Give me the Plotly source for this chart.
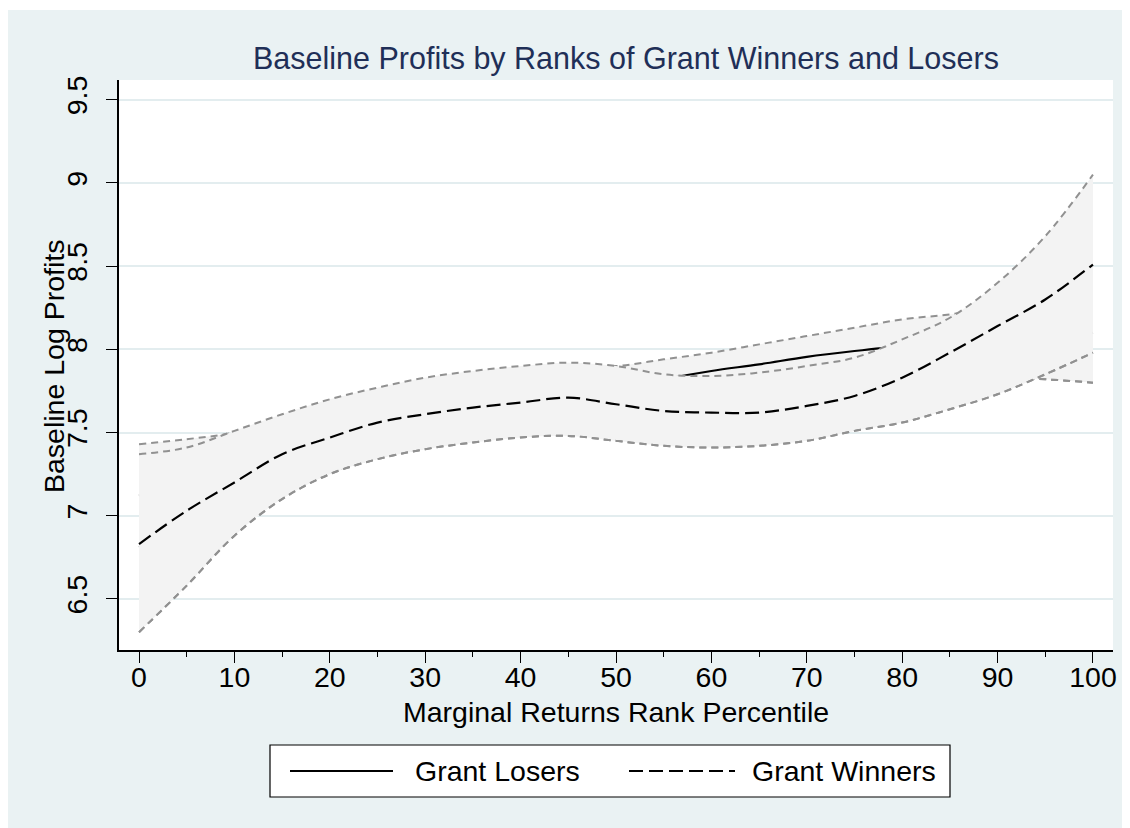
import plotly.graph_objects as go

# ---------------- data ----------------
pctl = [0, 5, 10, 15, 20, 25, 30, 35, 40, 45, 50, 55, 60, 65, 70, 75, 80, 85, 90, 95, 100]

# Grant Losers: local-poly fit and CI
losers_fit = [7.12, 7.20, 7.28, 7.36, 7.44, 7.51, 7.57, 7.62, 7.67, 7.71, 7.76,
              7.82, 7.87, 7.91, 7.955, 7.99, 8.02, 8.04, 8.05, 8.07, 8.10]
losers_hi = [7.43, 7.46, 7.50, 7.58, 7.66, 7.74, 7.80, 7.84, 7.88, 7.91, 7.90,
             7.94, 7.98, 8.03, 8.08, 8.13, 8.18, 8.21, 8.25, 8.30, 8.35]
losers_lo = [6.81, 6.93, 7.04, 7.14, 7.26, 7.35, 7.41, 7.46, 7.49, 7.52, 7.58,
             7.66, 7.72, 7.76, 7.79, 7.81, 7.82, 7.83, 7.83, 7.82, 7.80]

# Grant Winners: local-poly fit and CI
winners_fit = [6.83, 7.03, 7.20, 7.37, 7.47, 7.56, 7.61, 7.65, 7.68, 7.71, 7.67,
               7.63, 7.62, 7.62, 7.66, 7.72, 7.83, 7.98, 8.14, 8.30, 8.51]
winners_hi = [7.37, 7.41, 7.51, 7.61, 7.70, 7.77, 7.83, 7.87, 7.90, 7.92, 7.90,
              7.85, 7.84, 7.86, 7.90, 7.95, 8.06, 8.19, 8.40, 8.68, 9.05]
winners_lo = [6.30, 6.58, 6.88, 7.10, 7.25, 7.34, 7.40, 7.44, 7.47, 7.48, 7.45,
              7.42, 7.41, 7.42, 7.45, 7.51, 7.56, 7.64, 7.73, 7.85, 7.98]

y_ticks = [6.5, 7, 7.5, 8, 8.5, 9, 9.5]
x_ticks = [0, 10, 20, 30, 40, 50, 60, 70, 80, 90, 100]

TITLE = "Baseline Profits by Ranks of Grant Winners and Losers"
X_TITLE = "Marginal Returns Rank Percentile"
Y_TITLE = "Baseline Log Profits"
LEG_NAMES = ["Grant Losers", "Grant Winners"]

# ---------------- styling ----------------
FONT = "Arial, Liberation Sans, sans-serif"
BG = "#eaf2f3"
GRID = "#e3edef"
FILL = "#f3f3f3"
CI_LINE = "#919191"
CI_DASH = "7px,5px"
WIN_DASH = "14px,6px"
TXT = 28.5

W, H = 1130, 828
OX, OY = 8, 8          # page offset of the figure (body margin)
# plot area in page pixels (from the reference)
PL, PR, PT, PB = 119, 1113, 80, 650
ML, MR, MT, MB = PL - OX, W - (PR - OX), PT - OY, H - (PB - OY)
PW, PH = W - ML - MR, H - MT - MB


def px(xp):
    """page pixel x -> paper x"""
    return (xp - OX - ML) / PW


def py(yp):
    """page pixel y -> paper y"""
    return (H - MB - (yp - OY)) / PH


fig = go.Figure()


def add_group(fit, lo, hi, fit_dash):
    fig.add_trace(go.Scatter(x=pctl, y=lo, mode="lines",
                             line=dict(color=CI_LINE, width=2, dash=CI_DASH, shape="spline"),
                             hoverinfo="skip", showlegend=False))
    fig.add_trace(go.Scatter(x=pctl, y=hi, mode="lines", fill="tonexty", fillcolor=FILL,
                             line=dict(color=CI_LINE, width=2, dash=CI_DASH, shape="spline"),
                             hoverinfo="skip", showlegend=False))
    fig.add_trace(go.Scatter(x=pctl, y=lo, mode="lines",
                             line=dict(color=CI_LINE, width=2, dash=CI_DASH, shape="spline"),
                             hoverinfo="skip", showlegend=False))
    fig.add_trace(go.Scatter(x=pctl, y=fit, mode="lines",
                             line=dict(color="black", width=2.2, dash=fit_dash, shape="spline"),
                             showlegend=False))


add_group(losers_fit, losers_lo, losers_hi, "solid")
add_group(winners_fit, winners_lo, winners_hi, WIN_DASH)

shapes = [
    dict(type="rect", xref="paper", yref="paper", x0=px(OX - 2), x1=px(W + 20), y0=py(H + 20), y1=py(10),
         fillcolor=BG, line=dict(width=0), layer="below"),
    dict(type="rect", xref="paper", yref="paper", x0=0, x1=1, y0=0, y1=1,
         fillcolor="white", line=dict(width=0), layer="below"),
    # legend box and keys
    dict(type="rect", xref="paper", yref="paper", x0=px(270), x1=px(950), y0=py(797), y1=py(745),
         fillcolor="white", line=dict(color="black", width=1.2)),
    dict(type="line", xref="paper", yref="paper", x0=px(290), x1=px(393), y0=py(771), y1=py(771),
         line=dict(color="black", width=2)),
    dict(type="line", xref="paper", yref="paper", x0=px(629), x1=px(735), y0=py(771), y1=py(771),
         line=dict(color="black", width=2, dash=WIN_DASH)),
]

annotations = [
    dict(text=TITLE, xref="paper", yref="paper", x=px(626), y=py(58), xanchor="center",
         yanchor="middle", showarrow=False, font=dict(family=FONT, size=30.5, color="#1f2f57")),
    dict(text=X_TITLE, xref="paper", yref="paper", x=px(616), y=py(712), xanchor="center",
         yanchor="middle", showarrow=False, font=dict(family=FONT, size=TXT, color="black")),
    dict(text=Y_TITLE, xref="paper", yref="paper", x=px(54), y=py(367), xanchor="center",
         yanchor="middle", textangle=-90, showarrow=False, font=dict(family=FONT, size=TXT, color="black")),
    dict(text=LEG_NAMES[0], xref="paper", yref="paper", x=px(413), y=py(771), xanchor="left",
         yanchor="middle", showarrow=False, font=dict(family=FONT, size=TXT, color="black")),
    dict(text=LEG_NAMES[1], xref="paper", yref="paper", x=px(750), y=py(771), xanchor="left",
         yanchor="middle", showarrow=False, font=dict(family=FONT, size=TXT, color="black")),
]

fig.update_layout(
    width=W, height=H,
    margin=dict(l=ML, r=MR, t=MT, b=MB, pad=0),
    paper_bgcolor="white",
    plot_bgcolor="rgba(0,0,0,0)",
    font=dict(family=FONT, size=TXT, color="black"),
    showlegend=False,
    shapes=shapes,
    annotations=annotations,
    xaxis=dict(range=[-2.1, 102.1], tickvals=x_ticks, ticktext=[str(v) for v in x_ticks],
               showgrid=False, zeroline=False, showline=True, linecolor="black", linewidth=1.5,
               ticks="outside", ticklen=11, tickwidth=1.3, tickcolor="black",
               ticklabelstandoff=-10,
               tickfont=dict(family=FONT, size=TXT, color="black"),
               minor=dict(dtick=5, tick0=0, ticks="outside", ticklen=5, tickwidth=1.3,
                          tickcolor="black", showgrid=False)),
    yaxis=dict(range=[6.193, 9.619], tickvals=y_ticks, ticktext=[f"{v:g}" for v in y_ticks],
               showgrid=True, gridcolor=GRID, gridwidth=1.5, zeroline=False,
               showline=True, linecolor="black", linewidth=1.5,
               ticks="outside", ticklen=11, tickwidth=1.3, tickcolor="black", tickangle=-90,
               ticklabelstandoff=8,
               tickfont=dict(family=FONT, size=TXT, color="black")),
)

fig.write_html("out.html")
